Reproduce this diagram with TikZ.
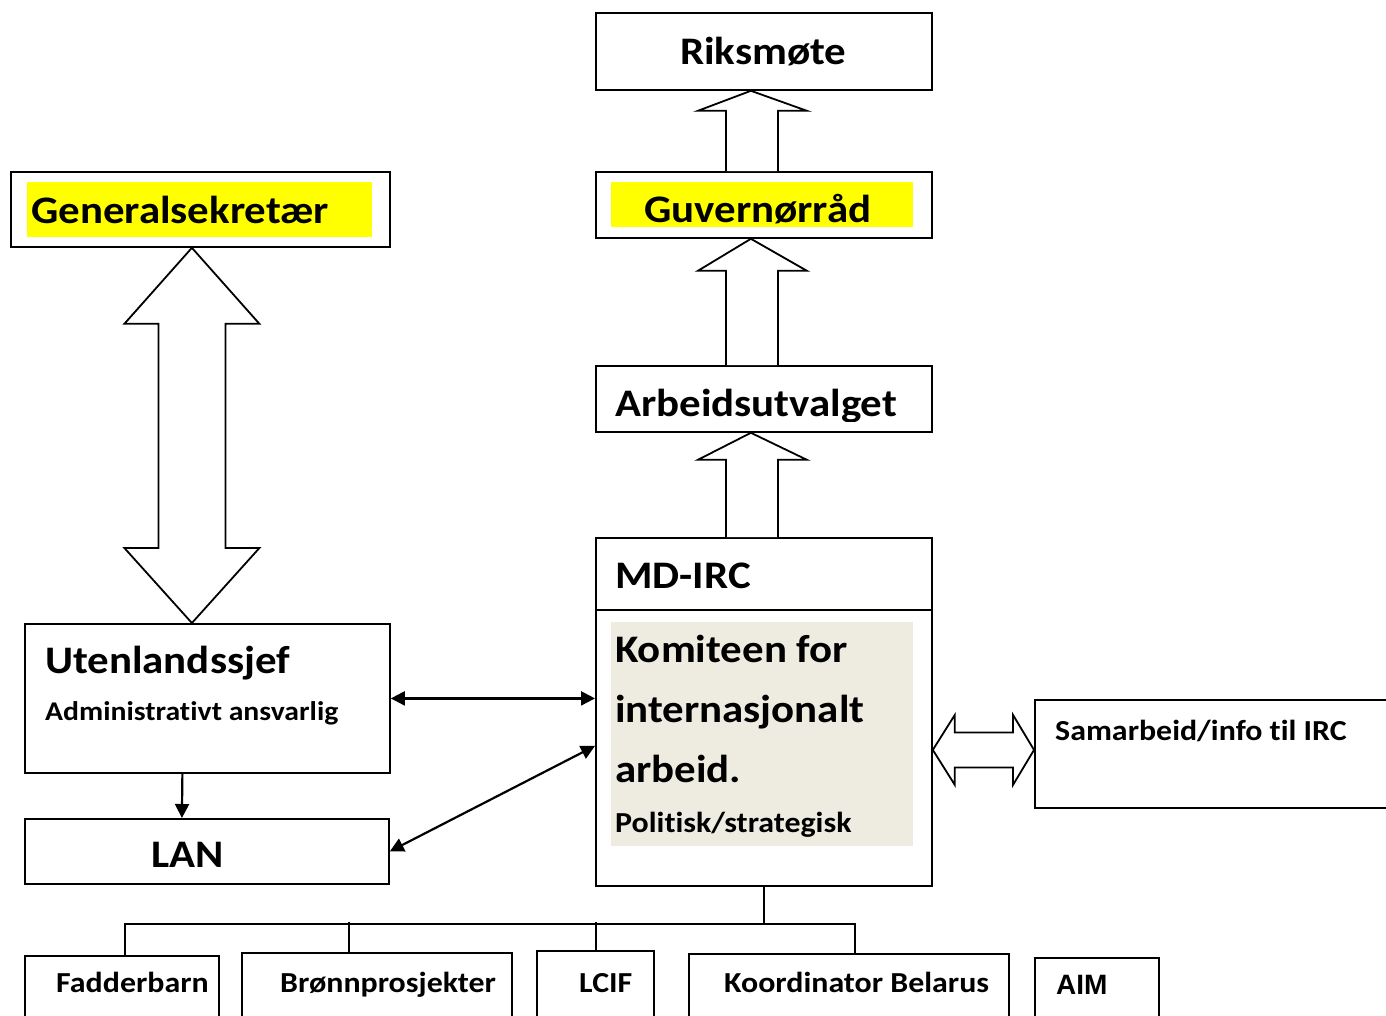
\documentclass[tikz,border=0pt]{standalone}
\usepackage{fontspec}
\setmainfont{Carlito}[FakeStretch=1.1,Ligatures=NoCommon]
\newfontfamily\arialfont{Liberation Sans}
\usetikzlibrary{calc}
\usetikzlibrary{arrows.meta}

\definecolor{hlyellow}{RGB}{255,255,0}
\definecolor{hlgray}{RGB}{238,236,225}

\tikzset{
  box/.style={draw=black,line width=1.8pt,inner sep=0pt,anchor=north west},
  bigtext/.style={font=\fontsize{39}{47}\selectfont\bfseries,inner sep=0pt,anchor=base west},
  smalltext/.style={font=\fontsize{29}{35}\selectfont\bfseries,inner sep=0pt,anchor=base west},
  blockarrow/.style={draw=black,line width=1.8pt,fill=white,line join=miter},
  thinarrow/.style={line width=2.2pt,{Triangle[length=14pt,width=14pt]}-{Triangle[length=14pt,width=14pt]}},
}

\begin{document}
\begin{tikzpicture}[x=1pt,y=-1pt]
\clip (0,0) rectangle (1386,1015);
\fill[white] (0,0) rectangle (1386,1015);

% boxes
\node[box,minimum width=336,minimum height=77] (riks) at (595,12) {};
\node[box,minimum width=336,minimum height=66] (guv) at (595,171) {};
\node[box,minimum width=379,minimum height=75] (gen) at (10,171) {};
\node[box,minimum width=336,minimum height=66] (arb) at (595,365) {};
\node[box,minimum width=336,minimum height=348] (md) at (595,537) {};
\node[box,minimum width=365,minimum height=149] (ut) at (24,623) {};
\node[box,minimum width=364,minimum height=65] (lan) at (24,818) {};
\node[box,minimum width=380,minimum height=108] (sam) at (1034,699) {};
\draw[line width=1.8pt] (md.west |- 0,610) -- (md.east |- 0,610);

% bottom row
\node[box,minimum width=194,minimum height=90] (fad) at (24,955) {};
\node[box,minimum width=270,minimum height=90] (bro) at (241,952) {};
\node[box,minimum width=117,minimum height=90] (lcif) at (536,950) {};
\node[box,minimum width=320,minimum height=90] (koo) at (688,953) {};
\node[box,minimum width=124,minimum height=90] (aim) at (1034,957) {};

% highlights
\fill[hlyellow] (611,182) rectangle (913,227);
\fill[hlyellow] (27,182) rectangle (372,237);
\fill[hlgray] (611,622) rectangle (913,846);

% texts
\node[bigtext] at (680,64) {Riksmøte};
\node[bigtext] at (644,222) {Guvernørråd};
\node[bigtext] at (31,223) {Generalsekretær};
\begin{scope}
\clip (597,367) rectangle (929,421);
\node[bigtext] at (615,416) {Arbeidsutvalget};
\end{scope}
\node[bigtext] at (615,588) {MD-IRC};
\node[bigtext] at (615,662) {Komiteen for};
\node[bigtext] at (615,722) {internasjonalt};
\node[bigtext] at (615,782) {arbeid.};
\node[smalltext] at (615,832) {Politisk/strategisk};
\node[bigtext] at (45,673) {Utenlandssjef};
\node[smalltext,font=\fontsize{27}{33}\selectfont\bfseries] at (45,720) {Administrativt ansvarlig};
\node[bigtext] at (151,867) {LAN};
\node[smalltext] at (1055,740) {Samarbeid/info til IRC};
\node[smalltext] at (56,992) {Fadderbarn};
\node[smalltext] at (280,992) {Brønnprosjekter};
\node[smalltext] at (579,992) {LCIF};
\node[smalltext] at (724,992) {Koordinator Belarus};
\node[smalltext,font=\arialfont\fontsize{28}{32}\selectfont\bfseries] at (1056,994) {AIM};

% block arrows up the chain
\foreach \lo/\hi/\hl in {guv/riks/20, arb/guv/32, md/arb/27}{
  \draw[blockarrow] ($(\lo.north)+(-38,0)$) -- ($(\hi.south)+(-38,\hl)$) -- ($(\hi.south)+(-66,\hl)$)
    -- ($(\hi.south)+(-13,0)$) -- ($(\hi.south)+(43,\hl)$) -- ($(\hi.south)+(14,\hl)$) -- ($(\lo.north)+(14,0)$);
}

% Generalsekretaer <-> Utenlandssjef
\coordinate (gtip) at ($(gen.south)+(-8.5,0)$);
\coordinate (utip) at ($(ut.north)+(-15.5,0)$);
\draw[blockarrow] (gtip) -- ++(67.5,76) -- ++(-34,0) -- ($(utip)+(33.5,-75)$) -- ++(34,0) -- (utip)
  -- ++(-67.5,-75) -- ++(34,0) -- ($(gtip)+(-33.5,76)$) -- ++(-34,0) -- cycle;

% MD-IRC <-> Samarbeid
\coordinate (ltip) at ($(md.east)+(0,38)$);
\coordinate (rtip) at ($(sam.west)+(0,-4)$);
\draw[blockarrow] (ltip) -- ++(22,-35) -- ++(0,17.5) -- ($(rtip)+(-21,-17.5)$) -- ++(0,-17.5) -- (rtip)
  -- ++(-21,35) -- ++(0,-17.5) -- ($(ltip)+(22,17.5)$) -- ++(0,17.5) -- cycle;

% thin arrows
\draw[thinarrow] (ut.east) -- (ut.east -| md.west);
\draw[thinarrow] (lan.east) -- ($(md.west)+(0,34)$);
\draw[line width=2.2pt,-{Triangle[length=14pt,width=14pt]}] ($(ut.south)+(-25,0)$) -- ($(lan.north)+(-25,0)$);

% tree below MD-IRC
\draw[line width=1.8pt] (md.south) -- ++(0,37) coordinate (bus);
\draw[line width=1.8pt] ($(fad.north)+(3,0)$) |- (bus) -| ($(koo.north)+(6,0)$);
\draw[line width=1.8pt] ($(bro.north)+(-28,0)$) -- ++(0,-30);
\draw[line width=1.8pt] ($(lcif.north)+(0.5,0)$) -- ++(0,-28);

\end{tikzpicture}
\end{document}
